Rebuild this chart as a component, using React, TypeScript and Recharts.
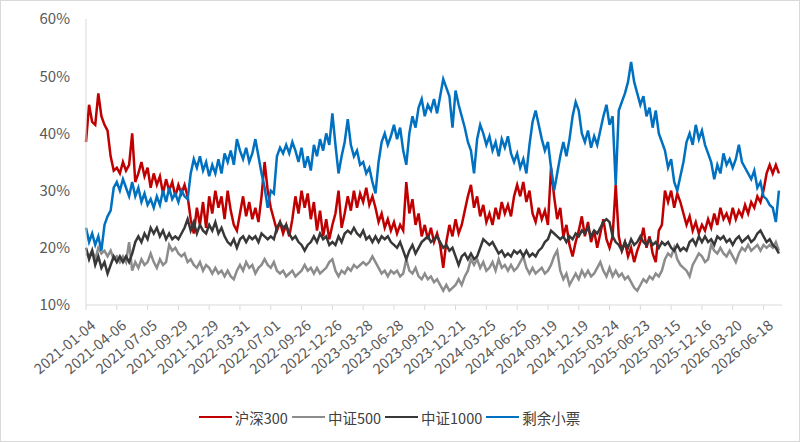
import { Legend, Line, LineChart, XAxis, YAxis } from "recharts";

// trading-day tick labels (one every 60 sessions)
const tickLabels = [
  "2021-01-04", "2021-04-06", "2021-07-05", "2021-09-29", "2021-12-29",
  "2022-03-31", "2022-07-01", "2022-09-26", "2022-12-26", "2023-03-28",
  "2023-06-28", "2023-09-20", "2023-12-21", "2024-03-25", "2024-06-25",
  "2024-09-19", "2024-12-19", "2025-03-24", "2025-06-23", "2025-09-15",
  "2025-12-16", "2026-03-20", "2026-06-18",
];
const TICK_EVERY = 60;
const SAMPLE_STEP = 6; // values read every 6 trading days
const LAST_DAY = 1356;

const seriesNames = ["沪深300", "中证500", "中证1000", "剩余小票"];
const seriesColors = ["#C00000", "#8C8C8C", "#383838", "#0070C0"];

// 沪深300
const hs300 = [
  38.5, 45, 42, 41.5, 47, 43, 41.5, 40.5, 36, 33.5,
  34, 33, 35, 33.5, 34.5, 40, 31.5, 33, 35, 32.5,
  34, 30.5, 33, 31, 32.5, 29.5, 32, 30, 31.5, 29,
  31, 29.5, 31, 29, 25, 22.5, 27, 24, 28, 23.5,
  29, 26, 30, 27, 29, 25, 30, 26.5, 24, 23,
  26, 29, 25.5, 28, 25, 27, 24.5, 29, 35, 30,
  27, 25, 23, 24.5, 22.5, 24, 22, 25, 29, 26,
  30, 27, 29.5, 25, 28, 23, 26.5, 22, 25, 21.5,
  24, 26, 30, 23.5, 26, 29, 26.5, 30, 27, 29.5,
  28, 30.5, 27.5, 29, 27, 24.5, 26, 23.5, 25, 23,
  24.5, 22.5, 24, 23, 31.5, 26, 28.5, 24, 26, 22,
  24, 21.5, 23.5, 21, 22.5, 20.5, 16.5, 21, 24, 22,
  25, 22.5, 24, 26.5, 29, 31, 27, 29, 25.5, 27.5,
  24.5, 26, 24, 27, 25, 28, 26, 27.5, 25.5, 29,
  31, 29, 31.5, 28, 30, 26, 24.5, 27, 25, 26.5,
  24, 34, 29, 25, 27, 22, 24, 20.5, 18.5, 21,
  23, 25.5, 22, 24.5, 21, 23, 20, 22.5, 25, 21.5,
  20, 22, 31, 22, 19.5, 21, 18.5, 20, 17.5, 19.5,
  21, 23.5, 20, 22, 19, 17.5, 23, 24, 30, 28,
  30, 27, 29.5, 28, 26, 24, 25.5, 23, 24.5, 22.5,
  24, 23, 25, 23.5, 26, 24, 27, 25, 26, 24.5,
  27, 25, 26.5, 25.5, 27.5, 26, 28, 27, 29, 28,
  30, 33, 34.5, 33, 34.5, 33,
];

// 中证500
const zz500 = [
  19, 18.5, 19.5, 18, 20, 19, 19.5, 18.5, 19.5, 18,
  18.5, 17.5, 18.5, 17.5, 21, 16, 17.5, 16.5, 18, 17,
  17.5, 19, 17.5, 16.5, 18, 17, 17.5, 20.5, 19.5, 20,
  19, 18.5, 19, 17.5, 18, 17, 16.5, 17.5, 16, 17,
  16.5, 15.5, 16.5, 15.5, 16, 15, 16, 15, 14.5, 16,
  17, 16, 17.5, 16.5, 17, 15.5, 16.5, 17, 18, 17,
  16.5, 17.5, 16, 15.5, 16, 15, 15.5, 16, 15, 15.5,
  16, 17, 16, 16.5, 15.5, 16.5, 15.5, 16, 16.5, 17.5,
  18, 16, 15, 16, 15.5, 16.5, 16, 17, 16.5, 17,
  17.5, 17, 17.5, 18.5, 17.5, 16.5, 15.5, 16, 15, 16,
  15.5, 16, 15, 15.5, 18, 16, 15.5, 16.5, 15, 14.5,
  15.5, 14.5, 15, 14, 14.5, 13.5, 12.5, 13.5, 12.5, 13,
  13.5, 14.5, 13.5, 15, 16, 18, 17, 18, 16.5, 17.5,
  16, 16.5, 17.5, 16, 18, 16.5, 17, 16, 17, 16,
  16.5, 17.5, 18.5, 16.5, 15.5, 16.5, 15.5, 16, 16.5, 15.5,
  16, 17, 18.5, 19.5, 16, 14.5, 15.5, 13.5, 14.5, 15.5,
  14.5, 16, 15, 16, 15, 15.5, 16.5, 17.5, 16, 15,
  16.5, 15, 16, 15, 15.5, 14.5, 15, 14, 13, 12.5,
  13.5, 14.5, 14, 15, 14.5, 15.5, 15, 16, 18, 19,
  18.5, 20, 18, 17, 16.5, 16, 15, 17, 18, 19,
  18.5, 17.5, 18, 20.5, 19.5, 19, 20, 19, 18.5, 19.5,
  18.5, 17.5, 19, 20, 19.5, 20.5, 19.5, 20, 20.5, 19.5,
  20.5, 20, 20.5, 20, 21, 19.5,
];

// 中证1000
const zz1000 = [
  20, 18, 19.5, 17, 18.5, 16.5, 17.5, 15.5, 17, 18.5,
  17.5, 18.5, 17.5, 18.5, 17.5, 19, 21, 22, 21, 22.5,
  21.5, 23.5, 22.5, 23.5, 22, 23, 21.5, 22.5, 21.5, 22,
  21.5, 22.5, 23.5, 25, 23, 24.5, 22.5, 24, 23, 22.5,
  24, 23, 24.5, 22.5, 23.5, 22, 21, 20.5, 21.5, 20,
  21.5, 22, 21, 22, 21.5, 22, 21, 22.5, 22, 21.5,
  22, 21.5, 23.5, 24.5, 23.5, 24, 22.5, 21.5, 22, 21,
  20.5, 19.5, 20.5, 21, 22, 21, 22.5, 21.5, 22, 20.5,
  21, 20.5, 22, 21, 22.5, 23, 22.5, 23.5, 22.5, 22,
  23, 21.5, 22, 21, 22, 21, 22, 21.5, 22, 21,
  20.5, 20, 21, 19.5, 18, 19.5, 20.5, 19, 20, 21,
  21.5, 22, 21, 21.5, 22, 21, 20, 20.5, 19.5, 20,
  18.5, 17, 18.5, 19, 18, 19, 18, 18.5, 20, 21.5,
  21, 20.5, 21, 20, 19, 19.5, 18.5, 19, 18.5, 19.5,
  19, 19.5, 18.5, 19.5, 18.5, 19, 18.5, 19.5, 20, 21,
  21.5, 23, 22.5, 22, 21.5, 22, 21, 22, 21.5, 22.5,
  22, 23, 22.5, 23.5, 22, 23, 22.5, 23.5, 24.5, 25,
  24.5, 22, 21, 20.5, 19.5, 21, 20, 21.5, 20.5, 21,
  22, 21, 20.5, 21.5, 20.5, 21, 20, 21, 20.5, 21,
  20, 19.5, 20.5, 19.5, 20, 19.5, 21, 21.5, 20.5, 22,
  21, 22, 21, 21.5, 20.5, 22, 21.5, 22, 21, 21.5,
  20.5, 21.5, 22, 21, 21.5, 22, 21, 21.5, 22.5, 23,
  22, 21, 21.5, 20.5, 20, 19,
];

// 剩余小票
const smallCaps = [
  23.5, 21, 22.5, 20.5, 22, 19.5, 24, 25.5, 26.5, 30.5,
  31.5, 30, 32, 30.5, 29, 31.5, 29, 30.5, 28, 29.5,
  27.5, 28.5, 27, 29, 27.5, 30, 28, 30.5, 28.5, 29.5,
  28, 30, 29, 28.5, 33, 35.5, 34, 36, 33.5, 35,
  32.5, 34.5, 33, 35.5, 33, 36.5, 35, 37, 34.5, 39,
  37, 35.5, 37.5, 35, 36.5, 39, 36, 33, 30.5, 27,
  30, 29.5, 36, 37.5, 36.5, 38, 36.5, 38.5, 37, 35,
  37.5, 34, 36, 33.5, 38, 36, 39, 37, 40, 38,
  43.5, 38, 33, 36, 38.5, 42.5, 38, 36, 37, 34.5,
  35, 33, 34, 31.5, 29.5, 35, 38.5, 40, 38, 39.5,
  41.5, 39, 41, 37, 34.5, 40, 43, 41, 44.5, 46,
  43, 45, 44, 46, 43.5, 46.5, 49.5, 48, 46.5, 41,
  47.5, 45, 43, 41, 38.5, 37, 33, 39, 41.5, 40,
  38, 39.5, 37, 38.5, 36, 39, 37.5, 39.5, 36.5, 35,
  36.5, 34, 35.5, 33, 38, 42, 44, 41.5, 39, 37,
  38.5, 34, 30, 33, 36, 38.5, 36, 39, 43, 45.5,
  44, 40, 38.5, 40.5, 37.5, 39.5, 38, 40.5, 43, 45,
  41.5, 43, 31, 44, 45.5, 47, 49, 52.5, 49, 47,
  45, 46.5, 43, 44.5, 41, 44, 40, 38.5, 37, 34,
  35.5, 31.5, 30, 32.5, 35, 38.5, 40, 38, 41.5, 39,
  40.5, 38, 36.5, 35, 32, 34.5, 33, 36.5, 34.5, 35.5,
  34, 35.5, 38, 35, 34, 33, 32, 33.5, 30.5, 31.5,
  29, 28.5, 27.5, 27, 24.5, 30,
];

const yTicks = [10, 20, 30, 40, 50, 60];
const xTicks = tickLabels.map((_, i) => i * TICK_EVERY);

const data = hs300.map((v, i) => ({
  day: i * SAMPLE_STEP,
  s0: v,
  s1: zz500[i],
  s2: zz1000[i],
  s3: smallCaps[i],
}));

const FONT = '"Noto Sans CJK SC", "Noto Sans", sans-serif';

function DateTick({ x, y, payload }: any) {
  const label = tickLabels[Math.round(payload.value / TICK_EVERY)] ?? "";
  return (
    <g transform={`translate(${x + 8},${y + 12})`}>
      <text
        x={0}
        y={0}
        dy={4}
        textAnchor="end"
        transform="rotate(-40)"
        fontSize={14.5}
        fill="#595959"
        fontFamily={FONT}
      >
        {label}
      </text>
    </g>
  );
}

function LegendRow() {
  return (
    <div
      style={{
        height: 40,
        display: "flex",
        justifyContent: "center",
        alignItems: "center",
        fontFamily: FONT,
        fontSize: 14.5,
        color: "#404040",
      }}
    >
      {seriesNames.map((name, i) => (
        <div key={name} style={{ display: "flex", alignItems: "center", marginRight: 4 }}>
          <svg width={33} height={6} style={{ marginRight: 3 }}>
            <line x1={0} y1={3} x2={33} y2={3} stroke={seriesColors[i]} strokeWidth={2.2} />
          </svg>
          <span>{name}</span>
        </div>
      ))}
    </div>
  );
}

export default function App() {
  return (
    <div
      style={{
        position: "absolute",
        left: 0,
        top: 0,
        width: 800,
        height: 442,
        boxSizing: "border-box",
        border: "1px solid #d9d9d9",
        background: "#fff",
      }}
    >
      <LineChart
        width={798}
        height={440}
        data={data}
        margin={{ top: 18, right: 17, left: 0, bottom: 4 }}
      >
        <XAxis
          dataKey="day"
          type="number"
          domain={[0, LAST_DAY]}
          ticks={xTicks}
          interval={0}
          tick={<DateTick />}
          tickLine={{ stroke: "#d9d9d9" }}
          tickSize={5}
          axisLine={{ stroke: "#d9d9d9" }}
          height={92}
        />
        <YAxis
          type="number"
          domain={[10, 60]}
          ticks={yTicks}
          tickFormatter={(v) => `${v}%`}
          tick={{ fontSize: 15, fill: "#595959", fontFamily: FONT }}
          tickLine={false}
          axisLine={{ stroke: "#d9d9d9" }}
          width={85}
          tickMargin={10}
        />
        <Legend verticalAlign="bottom" height={40} content={<LegendRow />} />
        {seriesNames.map((name, i) => (
          <Line
            key={name}
            dataKey={`s${i}`}
            name={name}
            type="linear"
            stroke={seriesColors[i]}
            strokeWidth={2.5}
            dot={false}
            isAnimationActive={false}
          />
        ))}
      </LineChart>
    </div>
  );
}
